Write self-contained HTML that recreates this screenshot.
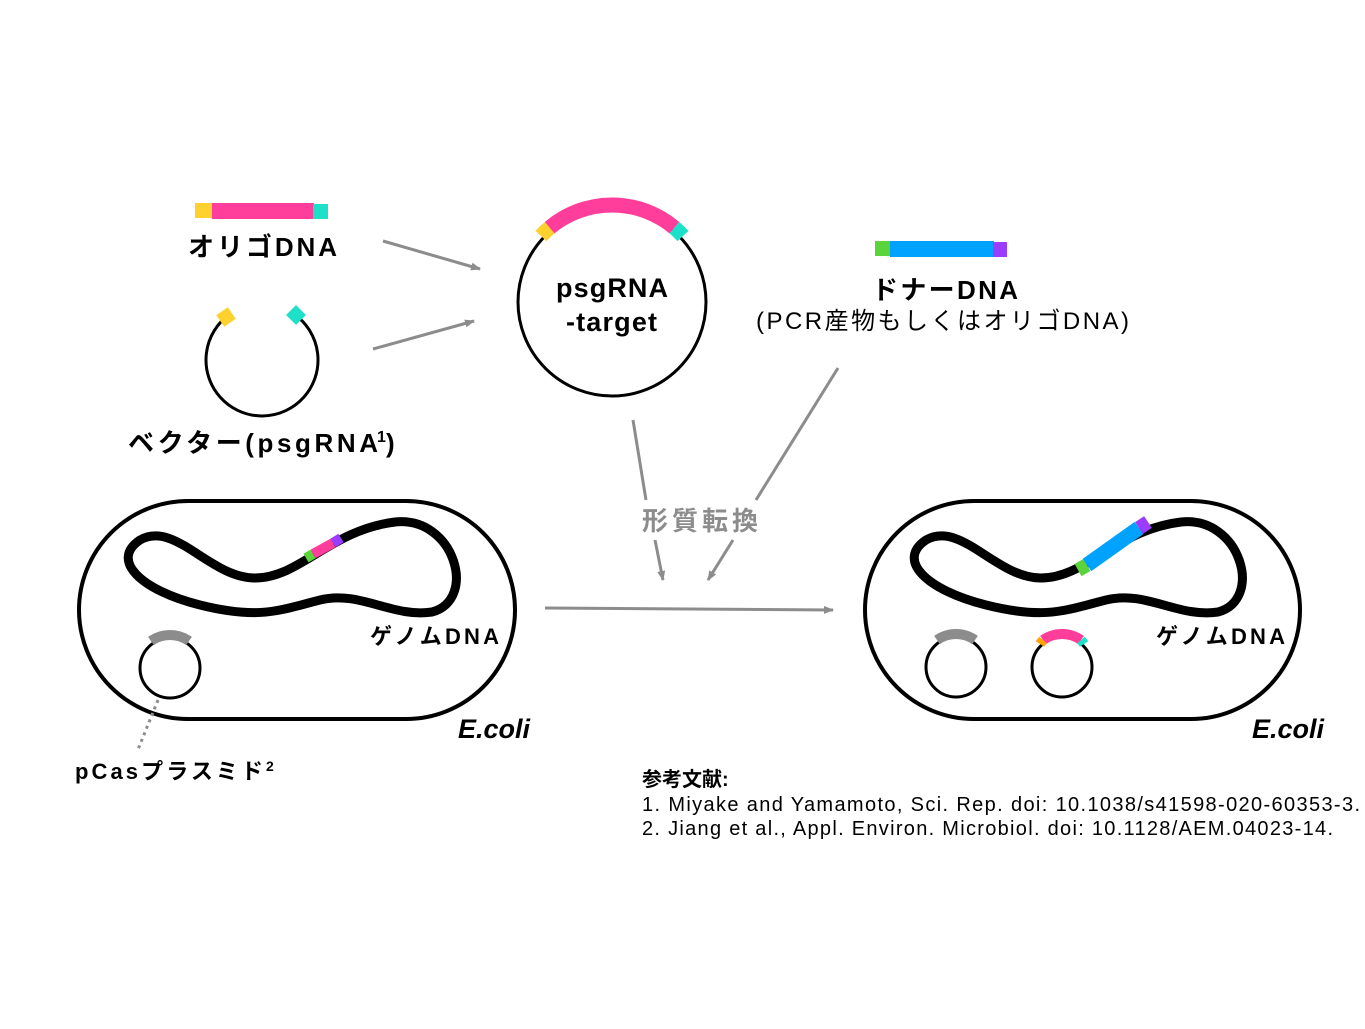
<!DOCTYPE html>
<html><head><meta charset="utf-8"><style>
body{margin:0;background:#fff}
svg text{font-family:"Liberation Sans","Noto Sans CJK JP",sans-serif}
</style></head><body>
<svg width="1365" height="1024" viewBox="0 0 1365 1024" xmlns="http://www.w3.org/2000/svg">
<defs><marker id="ah" markerWidth="10" markerHeight="8" refX="9" refY="4" orient="auto" markerUnits="userSpaceOnUse"><path d="M0,0 L10,4 L0,8 Z" fill="#8c8c8c"/></marker></defs>
<rect x="195" y="203" width="18" height="15" fill="#ffd12e"/>
<rect x="212" y="203" width="102" height="16" fill="#ff3e9b"/>
<rect x="313" y="204" width="15" height="15" fill="#1de0c8"/>
<text x="188" y="256" font-size="26" font-weight="bold" textLength="149" lengthAdjust="spacing">オリゴDNA</text>
<path d="M294,314 A56,56 0 1 1 230,314" fill="none" stroke="#000" stroke-width="3"/>
<rect x="219" y="310" width="14" height="14" fill="#ffd12e" transform="rotate(-35 226 317)"/>
<rect x="289" y="308" width="14" height="14" fill="#1de0c8" transform="rotate(45 296 315)"/>
<text x="128" y="452" font-size="26" font-weight="bold" textLength="250" lengthAdjust="spacing">ベクター(psgRNA</text>
<text x="377" y="442" font-size="16" font-weight="bold">1</text>
<text x="386" y="452" font-size="26" font-weight="bold">)</text>
<g stroke="#8c8c8c" stroke-width="3" fill="none">
<line x1="383" y1="241" x2="480" y2="269" marker-end="url(#ah)"/>
<line x1="373" y1="349" x2="474" y2="321" marker-end="url(#ah)"/>
<line x1="633" y1="420" x2="646" y2="500"/>
<line x1="655" y1="540" x2="663" y2="580" marker-end="url(#ah)"/>
<line x1="838" y1="368" x2="756" y2="500"/>
<line x1="733" y1="540" x2="708" y2="580" marker-end="url(#ah)"/>
<line x1="545" y1="608" x2="833" y2="610" marker-end="url(#ah)"/>
</g>
<text x="642" y="530" font-size="26" font-weight="bold" fill="#8c8c8c" textLength="116" lengthAdjust="spacing">形質転換</text>
<circle cx="612" cy="302" r="94" fill="none" stroke="#000" stroke-width="3"/>
<path d="M549.6,227.7 A97,97 0 0 1 674.4,227.7" fill="none" stroke="#ff3e9b" stroke-width="15"/>
<path d="M541,236 A97,97 0 0 1 549.6,227.7" fill="none" stroke="#ffd12e" stroke-width="15"/>
<path d="M674.4,227.7 A97,97 0 0 1 683,236" fill="none" stroke="#1de0c8" stroke-width="15"/>
<text x="556" y="297" font-size="27" font-weight="bold" textLength="112" lengthAdjust="spacing">psgRNA</text>
<text x="566" y="331" font-size="27" font-weight="bold" textLength="91" lengthAdjust="spacing">-target</text>
<rect x="875" y="241" width="16" height="15" fill="#5ad43a"/>
<rect x="890" y="241" width="104" height="16" fill="#00a2ff"/>
<rect x="993" y="242" width="14" height="15" fill="#9b3dff"/>
<text x="872" y="299" font-size="26" font-weight="bold" textLength="146" lengthAdjust="spacing">ドナーDNA</text>
<text x="756" y="329" font-size="24" textLength="373" lengthAdjust="spacing">(PCR産物もしくはオリゴDNA)</text>
<rect x="79" y="501" width="436" height="218" rx="109" fill="none" stroke="#000" stroke-width="4"/>
<path d="M140,540 C175,520 210,578 255,578 C300,578 330,530 395,522 C455,516 478,600 432,612 C392,618 360,590 320,600 C280,610 260,620 200,605 C140,590 110,560 140,540 Z" fill="none" stroke="#000" stroke-width="9"/>
<line x1="306" y1="558" x2="313" y2="554" stroke="#5ad43a" stroke-width="10"/>
<line x1="313" y1="554" x2="333" y2="543" stroke="#ff3e9b" stroke-width="10"/>
<line x1="333" y1="543" x2="341" y2="538" stroke="#9b3dff" stroke-width="10"/>
<text x="370" y="644" font-size="22" font-weight="bold" textLength="129" lengthAdjust="spacing">ゲノムDNA</text>
<text x="530" y="738" font-size="27" font-weight="bold" font-style="italic" text-anchor="end">E.coli</text>
<circle cx="170" cy="668" r="30" fill="none" stroke="#000" stroke-width="3"/>
<path d="M151,641 A33,33 0 0 1 189,641" fill="none" stroke="#8c8c8c" stroke-width="10"/>
<line x1="158" y1="700" x2="137" y2="752" stroke="#8c8c8c" stroke-width="3" stroke-dasharray="3,4"/>
<text x="75" y="779" font-size="22" font-weight="bold" textLength="188" lengthAdjust="spacing">pCasプラスミド</text>
<text x="266" y="771" font-size="14" font-weight="bold">2</text>
<rect x="865" y="501" width="435" height="218" rx="109" fill="none" stroke="#000" stroke-width="4"/>
<path d="M926,540 C961,520 996,578 1041,578 C1086,578 1116,530 1181,522 C1241,516 1264,600 1218,612 C1178,618 1146,590 1106,600 C1066,610 1046,620 986,605 C926,590 896,560 926,540 Z" fill="none" stroke="#000" stroke-width="9"/>
<line x1="1078" y1="570" x2="1087" y2="565" stroke="#5ad43a" stroke-width="14"/>
<line x1="1087" y1="565" x2="1139" y2="528" stroke="#00a2ff" stroke-width="15"/>
<line x1="1139" y1="528" x2="1148" y2="522" stroke="#9b3dff" stroke-width="14"/>
<text x="1156" y="644" font-size="22" font-weight="bold" textLength="129" lengthAdjust="spacing">ゲノムDNA</text>
<text x="1324" y="738" font-size="27" font-weight="bold" font-style="italic" text-anchor="end">E.coli</text>
<circle cx="956" cy="667" r="30" fill="none" stroke="#000" stroke-width="3"/>
<path d="M937,640 A33,33 0 0 1 975,640" fill="none" stroke="#8c8c8c" stroke-width="10"/>
<circle cx="1062" cy="667" r="30" fill="none" stroke="#000" stroke-width="3"/>
<path d="M1043,640 A33,33 0 0 1 1081,640" fill="none" stroke="#ff3e9b" stroke-width="10"/>
<path d="M1040,644 A33,33 0 0 1 1043,640" fill="none" stroke="#ffa500" stroke-width="10"/>
<path d="M1081,640 A33,33 0 0 1 1084,644" fill="none" stroke="#1de0c8" stroke-width="10"/>
<text x="642" y="786" font-size="20" font-weight="bold">参考文献:</text>
<text x="642" y="811" font-size="20" textLength="718" lengthAdjust="spacing">1. Miyake and Yamamoto, Sci. Rep. doi: 10.1038/s41598-020-60353-3.</text>
<text x="642" y="835" font-size="20" textLength="691" lengthAdjust="spacing">2. Jiang et al., Appl. Environ. Microbiol. doi: 10.1128/AEM.04023-14.</text>
</svg>
</body></html>
